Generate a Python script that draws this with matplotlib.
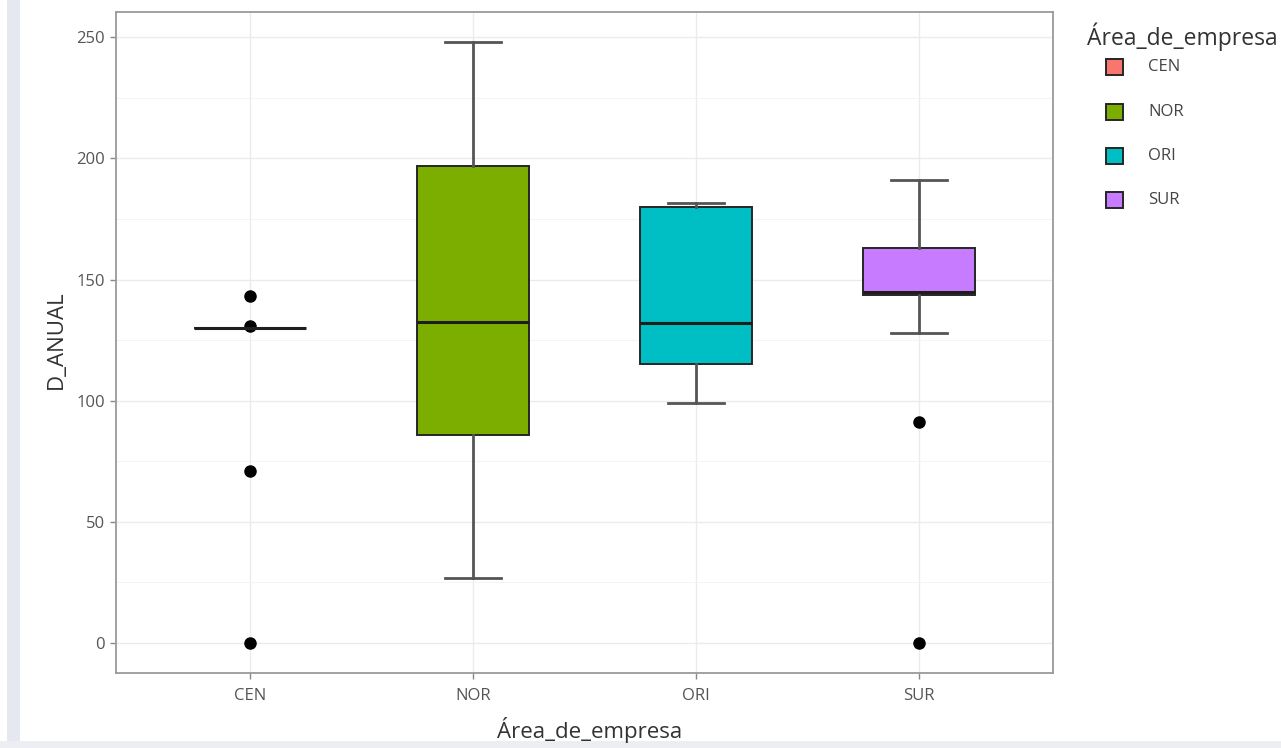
import matplotlib
matplotlib.use("Agg")
import matplotlib.pyplot as plt
from matplotlib.patches import Rectangle
from matplotlib.ticker import MultipleLocator

plt.rcParams['font.family'] = ['Open Sans', 'DejaVu Sans']

categories = ['CEN', 'NOR', 'ORI', 'SUR']
q1 = [130, 86, 115, 143.5]
medians = [130, 132.5, 132, 145]
q3 = [130, 197, 180, 163]
whisker_low = [130, 27, 99, 128]
whisker_high = [130, 248, 181.5, 191]
outliers = [[143, 131, 71, 0], [], [], [91, 0]]
fill_colors = ['#F8766D', '#7CAE00', '#00BFC4', '#C77CFF']
legend_title = 'Área_de_empresa'

W, H = 1281, 748
fig = plt.figure(figsize=(W / 100, H / 100), dpi=100)
fig.patch.set_facecolor('white')

# screenshot frame
fig.add_artist(Rectangle((7 / W, 0), 13 / W, 1, transform=fig.transFigure,
                         facecolor='#e5e8f1', edgecolor='none', zorder=0))
fig.add_artist(Rectangle((0, 0), 1, 7 / H, transform=fig.transFigure,
                         facecolor='#eceef4', edgecolor='none', zorder=0))

ax = fig.add_axes([116 / W, 1 - 673 / H, (1053 - 116) / W, (673 - 12) / H])

stats = []
for i, c in enumerate(categories):
    stats.append(dict(label=c, q1=q1[i], med=medians[i], q3=q3[i],
                      whislo=whisker_low[i], whishi=whisker_high[i],
                      fliers=outliers[i]))

positions = list(range(1, len(categories) + 1))
bp = ax.bxp(stats, positions=positions, widths=0.5, patch_artist=True,
            showfliers=True,
            boxprops=dict(edgecolor='#262626', linewidth=1.4),
            medianprops=dict(color='#1e1e1e', linewidth=2.2),
            whiskerprops=dict(color='#555555', linewidth=2.0),
            capprops=dict(color='#555555', linewidth=2.0),
            flierprops=dict(marker='o', markerfacecolor='black',
                            markeredgecolor='black', markersize=8),
            capwidths=0.25, zorder=3)
for patch, col in zip(bp['boxes'], fill_colors):
    patch.set_facecolor(col)

ax.set_xlim(0.4, 4.6)
ax.set_ylim(-12.4, 260.4)
ax.yaxis.set_major_locator(MultipleLocator(50))
ax.yaxis.set_minor_locator(MultipleLocator(25))
ax.set_xticks(positions)
ax.set_xticklabels(categories)

ax.grid(True, which='major', color='#ebebeb', linewidth=1.0, zorder=0)
ax.grid(True, which='minor', axis='y', color='#f3f3f3', linewidth=0.6, zorder=0)
ax.set_axisbelow(True)

for s in ax.spines.values():
    s.set_color('#9a9a9a')
    s.set_linewidth(1.3)

ax.tick_params(axis='both', which='major', colors='#888888', labelcolor='#555555',
               labelsize=12, length=4, width=1, pad=4)
ax.tick_params(axis='x', which='major', pad=7)
ax.tick_params(axis='y', which='minor', length=0)

ax.set_xlabel('Área_de_empresa', fontsize=16, color='#333333')
ax.set_ylabel('D_ANUAL', fontsize=16, color='#333333')
ax.xaxis.label.set_va('center')
ax.yaxis.label.set_va('center')
ax.xaxis.set_label_coords((590 - 116) / 937, (673 - 730) / 661)
ax.yaxis.set_label_coords((56 - 116) / 937, (673 - 340) / 661)

# legend (ggplot-style, placed in figure pixels)
def fx(px):
    return px / W

def fy(py):
    return 1 - py / H

fig.text(fx(1087), fy(37), legend_title, fontsize=16.5, color='#333333',
         ha='left', va='center')
key_y = [67, 112, 156, 200]
for lab, col, yy in zip(categories, fill_colors, key_y):
    fig.add_artist(Rectangle((fx(1106), fy(yy + 8)), 17 / W, 16 / H,
                             transform=fig.transFigure, facecolor=col,
                             edgecolor='#262626', linewidth=1.4))
    fig.text(fx(1148), fy(yy), lab, fontsize=12, color='#444444',
             ha='left', va='center')

fig.savefig('out.png', dpi=100, facecolor=fig.get_facecolor())
